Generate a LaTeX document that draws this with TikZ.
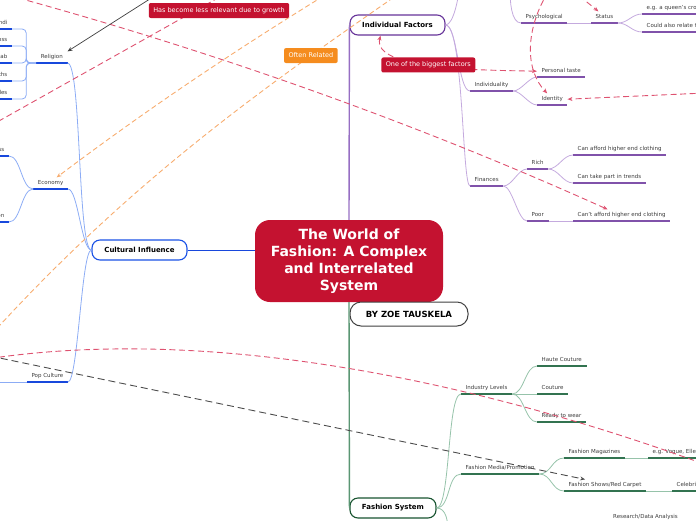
\documentclass[tikz,border=0pt]{standalone}
\usepackage{fontspec}
\setmainfont{DejaVu Sans}
\usetikzlibrary{arrows.meta,calc,positioning}
\definecolor{TitleRed}{RGB}{196,18,48}
\definecolor{CultBd}{RGB}{26,82,230}
\definecolor{CultDk}{RGB}{24,72,220}
\definecolor{CultLt}{RGB}{140,172,245}
\definecolor{IndBd}{RGB}{102,51,153}
\definecolor{IndDk}{RGB}{128,82,170}
\definecolor{IndLt}{RGB}{196,170,222}
\definecolor{IndMid}{RGB}{150,110,195}
\definecolor{SysBd}{RGB}{24,84,48}
\definecolor{SysDk}{RGB}{50,115,80}
\definecolor{SysLt}{RGB}{150,195,170}
\definecolor{SysMid}{RGB}{90,150,115}
\definecolor{LinkRed}{RGB}{222,82,112}
\definecolor{LinkOrange}{RGB}{247,172,110}
\definecolor{OrangeBox}{RGB}{245,140,30}
\definecolor{LabelGrey}{RGB}{60,60,60}

\begin{document}
\begin{tikzpicture}[
  x=1pt, y=-1pt,
  title/.style={fill=TitleRed, text=white, rounded corners=15pt, align=center,
    font=\bfseries\fontsize{14}{17}\selectfont, minimum width=188pt, minimum height=82pt},
  byline/.style={draw=black!75, line width=1pt, fill=white, rounded corners=11pt,
    font=\bfseries\fontsize{8.5}{10}\selectfont, minimum width=118pt, minimum height=24pt},
  topic/.style={draw=#1, line width=1.1pt, fill=white, rounded corners=8pt,
    font=\bfseries\fontsize{7}{8}\selectfont, minimum height=20pt},
  leaf/.style={text=LabelGrey, font=\fontsize{5.5}{6}\selectfont, inner xsep=4.5pt,
    inner ysep=3pt, text height=4pt, text depth=1.2pt,
    append after command={(\tikzlastnode.south west) edge[draw=#1, line width=1.6pt]
      (\tikzlastnode.south east)}},
  twig/.style={draw=#1, line width=0.8pt},
  rbend/.style={out=0, in=180, distance=#1},
  lbend/.style={out=180, in=0, distance=#1},
  callout/.style={fill=#1, text=white, rounded corners=2pt, inner xsep=4.5pt,
    font=\fontsize{6.5}{8}\selectfont, minimum height=15pt},
  rel/.style={draw=#1, line width=0.9pt, dash pattern=on 6pt off 3.5pt},
  tip/.style={-{Stealth[length=5pt, width=4pt]}},
]
\useasboundingbox (0,0) rectangle (696,520);
\clip (0,0) rectangle (696,520);

% centre and main topics
\node[title] (world) at (349,261) {The World of\\Fashion: A Complex\\and Interrelated\\System};
\node[byline] (byline) at (409,314) {BY ZOE TAUSKELA};
\node[topic=CultBd, minimum width=95pt] (cult) at (139.5,250) {Cultural Influence};
\node[topic=IndBd, minimum width=95pt] (indfac) at (397.5,25) {Individual Factors};
\node[topic=SysBd, minimum width=86pt] (fsys) at (393,508) {Fashion System};

% cultural influence
\node[leaf=CultDk, anchor=south east] (relig) at (67.5,63) {Religion};
\node[leaf=CultDk, anchor=south east] (bindi) at (12,29) {Bindi};
\node[leaf=CultDk, anchor=south east] (cross) at (12,46) {Cross};
\node[leaf=CultDk, anchor=south east] (hijab) at (12,63) {Hijab};
\node[leaf=CultDk, anchor=south east] (cloths) at (12,81) {Cloths};
\node[leaf=CultDk, anchor=south east] (bangles) at (12,99) {Bangles};
\node[leaf=CultDk, anchor=south east] (econ) at (68,189) {Economy};
\node[leaf=CultDk, anchor=south east] (class) at (9,156) {Social Class};
\node[leaf=CultDk, anchor=south east] (recess) at (9,222) {Recession};
\node[leaf=CultDk, anchor=south east] (pop) at (68,382) {Pop Culture};
\coordinate (popend) at (-5,382);

% individual factors
\node[leaf=IndDk, anchor=south west] (psych) at (521,23) {Psychological};
\node[leaf=IndDk, anchor=south west] (status) at (591,23) {Status};
\node[leaf=IndDk, anchor=south west] (queen) at (642,14) {e.g. a queen's crown};
\node[leaf=IndDk, anchor=south west] (relate) at (642,32) {Could also relate to wealth};
\node[leaf=IndDk, anchor=south west] (indiv) at (470,91) {Individuality};
\node[leaf=IndDk, anchor=south west] (taste) at (537,77) {Personal taste};
\node[leaf=IndDk, anchor=south west] (ident) at (537,105) {Identity};
\node[leaf=IndDk, anchor=south west] (fin) at (470,186) {Finances};
\node[leaf=IndDk, anchor=south west] (rich) at (527,169) {Rich};
\node[leaf=IndDk, anchor=south west] (poor) at (527,221) {Poor};
\node[leaf=IndDk, anchor=south west] (afford) at (573,155) {Can afford higher end clothing};
\node[leaf=IndDk, anchor=south west] (trends) at (573,183) {Can take part in trends};
\node[leaf=IndDk, anchor=south west] (cant) at (573,221) {Can't afford higher end clothing};
\coordinate (indup) at (459,-12);
\coordinate (psychtop) at (510,-10);

% fashion system
\node[leaf=SysDk, anchor=south west] (levels) at (461,394) {Industry Levels};
\node[leaf=SysDk, anchor=south west] (haute) at (537,366) {Haute Couture};
\node[leaf=SysDk, anchor=south west] (couture) at (537,394) {Couture};
\node[leaf=SysDk, anchor=south west] (ready) at (537,422) {Ready to wear};
\node[leaf=SysDk, anchor=south west] (media) at (461,474) {Fashion Media/Promotion};
\node[leaf=SysDk, anchor=south west] (mags) at (564,458) {Fashion Magazines};
\node[leaf=SysDk, anchor=south west] (vogue) at (648,458) {e.g. Vogue, Elle, Harper's Bazaar};
\node[leaf=SysDk, anchor=south west] (shows) at (564,491) {Fashion Shows/Red Carpet};
\node[leaf=SysDk, anchor=south west] (celeb) at (672,491) {Celebrities};
\node[leaf=SysDk, anchor=south west] (research) at (608.5,523) {Research/Data Analysis};
\coordinate (fsdown) at (448,532);

% branches
\draw[twig=CultDk] (cult.east) -- (cult.east -| world.west);
\draw[twig=IndMid, line width=1.4pt] (world.north) -- (indfac.west);
\draw[twig=SysMid, line width=1.4pt] (world.south) -- (fsys.west);

\draw[twig=CultLt] (cult.west) to[lbend=14pt] (relig.south east);
\draw[twig=CultLt] (cult.west) to[lbend=10pt] (econ.south east);
\draw[twig=CultLt] (cult.west) to[lbend=10pt] (pop.south east);
\foreach \c in {bindi,cross,hijab,cloths,bangles}
  \draw[twig=CultLt, rounded corners=4pt] (relig.south west) -- ++(-10,0) |- (\c.south east);
\draw[twig=CultLt] (econ.south west) to[lbend=12pt] (class.south east);
\draw[twig=CultLt] (econ.south west) to[lbend=12pt] (recess.south east);
\draw[twig=CultLt] (pop.south west) -- (popend);

\draw[twig=IndLt] (indfac.east) to[out=0, in=-90, distance=8pt] (indup);
\draw[twig=IndLt] (indfac.east) to[rbend=12pt] (indiv.south west);
\draw[twig=IndLt] (indfac.east) to[out=0, in=180, out distance=18pt, in distance=8pt] (fin.south west);
\draw[twig=IndLt] (psychtop) to[out=-90, in=180, distance=10pt] (psych.south west);
\draw[twig=IndLt] (psych.south east) -- (status.south west);
\draw[twig=IndLt] (status.south east) to[rbend=10pt] (queen.south west);
\draw[twig=IndLt] (status.south east) to[rbend=10pt] (relate.south west);
\draw[twig=IndLt] (indiv.south east) to[rbend=8pt] (taste.south west);
\draw[twig=IndLt] (indiv.south east) to[rbend=8pt] (ident.south west);
\draw[twig=IndLt] (fin.south east) to[rbend=9pt] (rich.south west);
\draw[twig=IndLt] (fin.south east) to[rbend=9pt] (poor.south west);
\draw[twig=IndLt] (rich.south east) to[rbend=10pt] (afford.south west);
\draw[twig=IndLt] (rich.south east) to[rbend=10pt] (trends.south west);
\draw[twig=IndLt] (poor.south east) -- (cant.south west);

\draw[twig=SysLt] (fsys.east) to[rbend=14pt] (levels.south west);
\draw[twig=SysLt] (fsys.east) to[rbend=14pt] (media.south west);
\draw[twig=SysLt] (fsys.east) to[out=0, in=90, distance=10pt] (fsdown);
\foreach \c in {haute,couture,ready}
  \draw[twig=SysLt] (levels.south east) to[rbend=12pt] (\c.south west);
\draw[twig=SysLt] (media.south east) to[rbend=12pt] (mags.south west);
\draw[twig=SysLt] (media.south east) to[rbend=12pt] (shows.south west);
\draw[twig=SysLt] (mags.south east) -- (vogue.south west);
\draw[twig=SysLt] (shows.south east) -- (celeb.south west);

% relationships
\coordinate (r1a) at (0,-7);
\coordinate (r2a) at (-10,126);
\coordinate (r2b) at (225,-6);
\coordinate (blk) at (164,-10);
\coordinate (oa) at (330,-8);
\coordinate (ob1) at (400,-7);
\coordinate (ob2) at (-10,336);
\coordinate (ri) at (548,-8);
\coordinate (rs) at (572,-10);
\coordinate (rr) at (705,93);
\coordinate (arcA) at (-20,360);
\coordinate (arcB) at (720,470);
\coordinate (bd) at (-10,356);

\draw[rel=LinkRed, tip] (r1a) .. controls (200,47) and (407,119) .. ([xshift=-14pt]cant.north);
\draw[rel=LinkRed] (r2a) -- (r2b);
\draw[rel=LinkRed] (arcA) .. controls (230,320) and (520,395) .. (arcB);
\draw[rel=LinkRed, tip] (ri) .. controls (525,30) and (525,70) .. ([xshift=-5pt]ident.north);
\draw[rel=LinkRed, tip] (rs) -- ([xshift=-6pt]status.north);
\draw[rel=LinkRed, tip] (rr) -- (ident.east);
\draw[rel=LinkOrange, dash pattern=on 5pt off 3pt, tip] (oa) .. controls (230,53.5) and (147,109.5) .. ([xshift=6pt]econ.north);
\draw[rel=LinkOrange, dash pattern=on 5pt off 3pt] (ob1) .. controls (260,90) and (130,182) .. (ob2)
  node[callout=OrangeBox, pos=0.215] (often) {Often Related};
\draw[rel=black!70, dash pattern=on 7pt off 4pt, tip] (bd) -- ([xshift=-20pt]shows.north);
\draw[rel=LinkRed, {Stealth[length=5pt, width=4pt]}-{Stealth[length=5pt, width=4pt]}]
  ([xshift=-17pt]indfac.south) .. controls (372,70) and (480,70) .. (taste.west)
  node[callout=TitleRed, pos=0.47] (biggest) {One of the biggest factors};
\draw[black!75, line width=0.7pt, tip] (blk) -- (relig.north east);
\node[callout=TitleRed] (lessrel) at (219,10.5) {Has become less relevant due to growth};
\end{tikzpicture}
\end{document}
